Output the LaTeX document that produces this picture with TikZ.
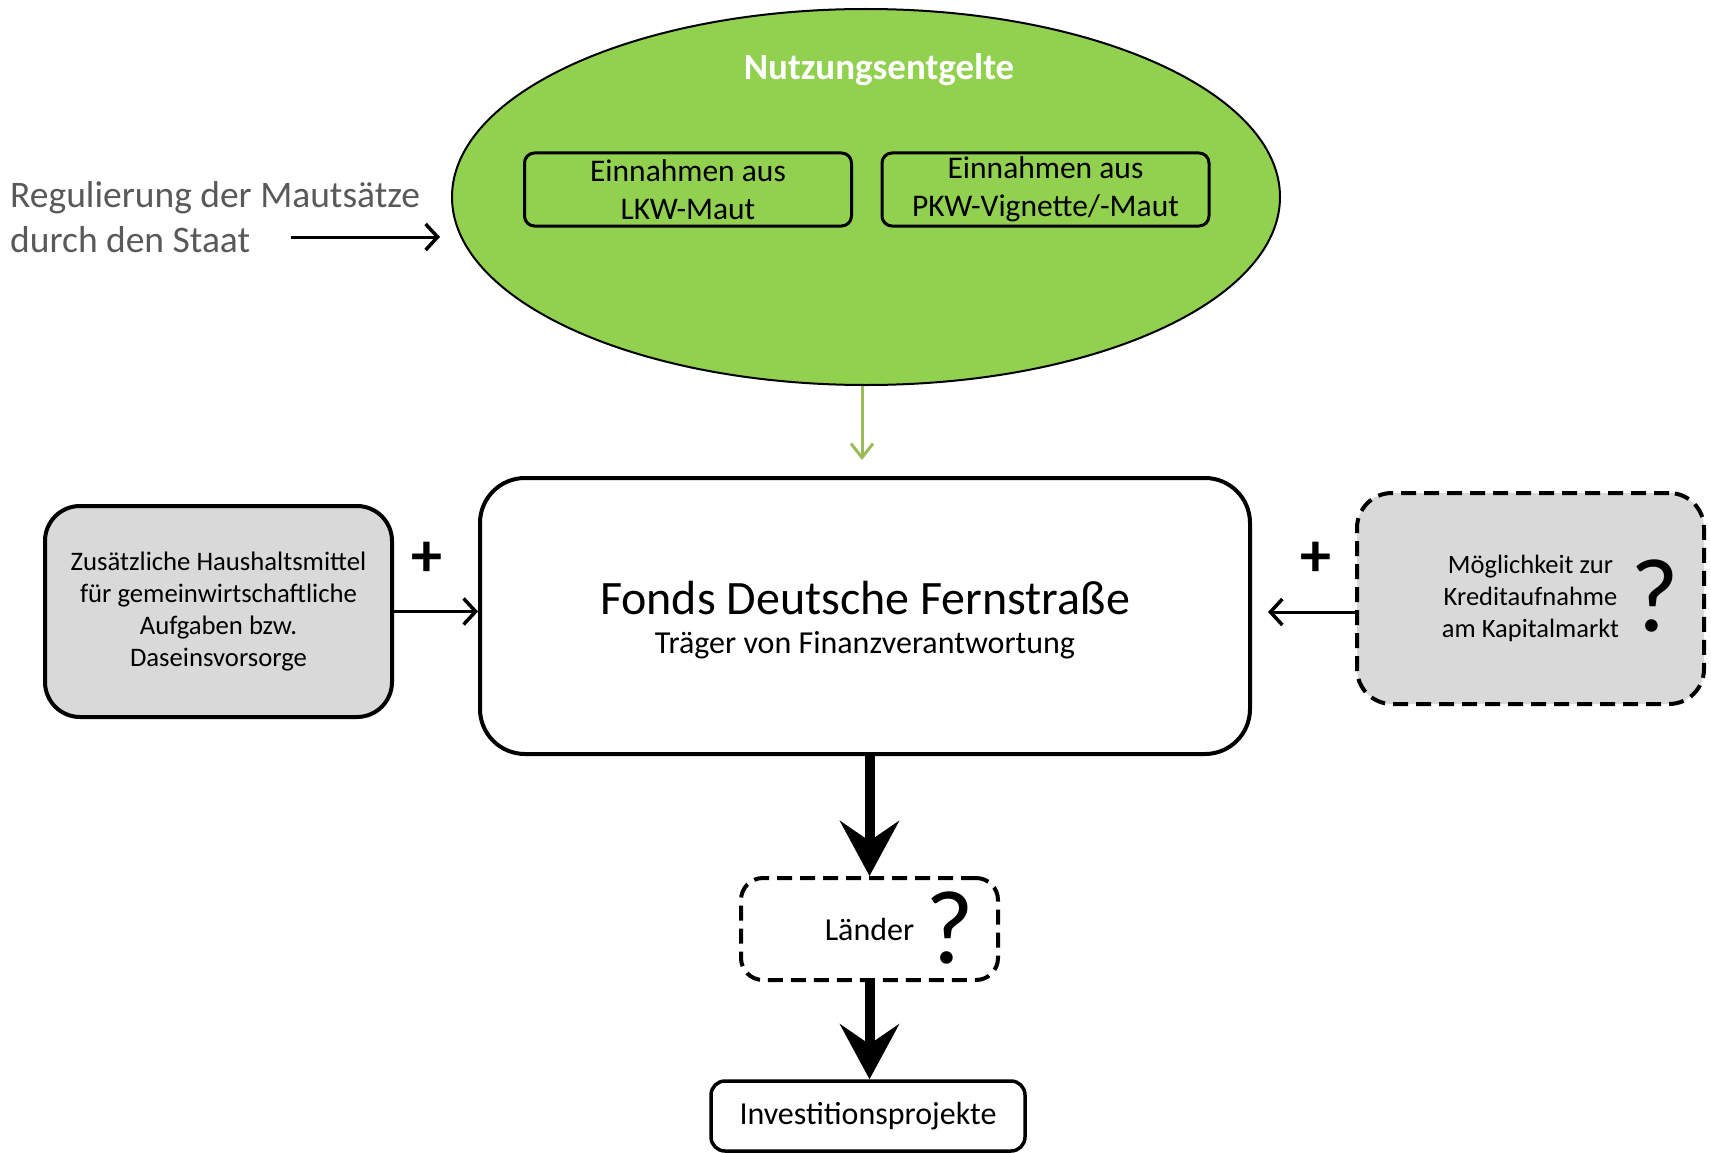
\documentclass[tikz,border=0pt]{standalone}
\usepackage{fontspec}
\setmainfont{Carlito}
\usepackage{tikz}
\usetikzlibrary{shapes.geometric,arrows.meta}
\definecolor{nutzgreen}{HTML}{92D050}
\definecolor{arrowgreen}{HTML}{9BBB59}
\definecolor{boxgray}{HTML}{D9D9D9}
\definecolor{textgray}{HTML}{595959}
\tikzset{
    fundbox/.style={draw, line width=4pt, rounded corners=#1, align=center, inner sep=0pt},
    einbox/.style={draw, line width=3pt, rounded corners=10pt, align=center, inner sep=0pt,
        minimum width=327pt, minimum height=73pt, font=\fontsize{31.5}{38}\selectfont},
    dashbox/.style={dash pattern=on 15pt off 8pt},
    plusmark/.style={font=\bfseries\fontsize{62}{62}\selectfont, inner sep=0pt},
    fragemark/.style={font=\fontsize{105}{105}\selectfont, inner sep=0pt},
    thinarrow/.style={line width=3pt, -{Straight Barb[length=12pt, width=26pt, line width=3.5pt]}},
    greenarrow/.style={line width=3pt, draw=arrowgreen, -{Straight Barb[length=14pt, width=22pt, line width=3pt]}},
    thickarrow/.style={line width=10pt, -{Stealth[length=55pt, width=59pt, inset=20pt]}},
}
\begin{document}
\begin{tikzpicture}[x=1pt, y=-1pt]
\useasboundingbox (0,0) rectangle (1711,1153);

\node[ellipse, draw, line width=2pt, fill=nutzgreen, minimum width=828pt, minimum height=376pt] (ell) at (866,197) {};
\node[font=\bfseries\fontsize{37}{44}\selectfont, text=white, inner sep=0pt] (titel) at (879,70) {Nutzungsentgelte};
\node[einbox] (lkw) at (688,189.5) {Einnahmen aus\\LKW-Maut};
\node[einbox] (pkw) at (1045.5,189.5) {Einnahmen aus\\PKW-Vignette/-Maut};

\node[anchor=west, align=left, inner sep=0pt, text=textgray, font=\fontsize{37.5}{45}\selectfont] (reg) at (10,217) {Regulierung der Mautsätze\\durch den Staat};
\coordinate (regstart) at (291,237);
\coordinate (regend) at (440,237);
\draw[thinarrow] (regstart) -- (regend);

\coordinate (gruenend) at (862,460);
\draw[greenarrow] (ell.south -| gruenend) -- (gruenend);

\node[fundbox=45pt, minimum width=770pt, minimum height=276pt] (fonds) at (865,616) {};
\node[font=\fontsize{48}{56}\selectfont, inner sep=0pt] (fondstitel) at (865,598) {Fonds Deutsche Fernstraße};
\node[font=\fontsize{32}{38}\selectfont, inner sep=0pt] (fondsunter) at (865,645) {Träger von Finanzverantwortung};

\node[fundbox=35pt, fill=boxgray, minimum width=347pt, minimum height=211pt, font=\fontsize{26.7}{32}\selectfont] (haushalt) at (218.5,611.5) {Zusätzliche Haushaltsmittel\\für gemeinwirtschaftliche\\Aufgaben bzw.\\Daseinsvorsorge};
\node[plusmark] (plusl) at (427,559) {+};
\draw[thinarrow] (haushalt.east) -- (haushalt.east -| fonds.west);

\node[fundbox=35pt, dashbox, fill=boxgray, minimum width=347pt, minimum height=211pt, font=\fontsize{26.5}{32}\selectfont] (kredit) at (1530.5,598.5) {Möglichkeit zur\\Kreditaufnahme\\am Kapitalmarkt};
\node[fragemark] (fragek) at (1655,596) {?};
\node[plusmark] (plusr) at (1316,559) {+};
\coordinate (kreditend) at (1268,612);
\draw[thinarrow] (kredit.west |- kreditend) -- (kreditend);

\node[fundbox=22pt, dashbox, minimum width=257pt, minimum height=102pt, font=\fontsize{32}{38}\selectfont] (laender) at (869.5,929) {Länder};
\node[fragemark] (fragel) at (950,928) {?};
\draw[thickarrow] (fonds.south -| laender.north) -- (laender.north);

\node[fundbox=14pt, line width=3.5pt, minimum width=314pt, minimum height=70pt, font=\fontsize{32}{38}\selectfont] (invest) at (868,1116) {Investitionsprojekte};
\draw[thickarrow] (laender.south) -- (invest.north -| laender.south);
\end{tikzpicture}
\end{document}
